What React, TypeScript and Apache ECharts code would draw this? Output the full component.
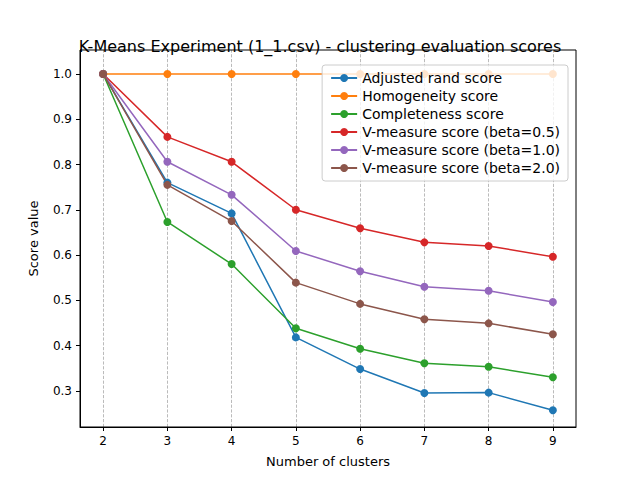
import React, { useEffect, useRef } from "react";
import * as echarts from "echarts";

const clusters = [2, 3, 4, 5, 6, 7, 8, 9];
const adjusted = [1.0, 0.76, 0.692, 0.418, 0.348, 0.295, 0.296, 0.257];
const homogeneity = [1.0, 1.0, 1.0, 1.0, 1.0, 1.0, 1.0, 1.0];
const completeness = [1.0, 0.673, 0.58, 0.438, 0.393, 0.361, 0.353, 0.33];
const v05 = [1.0, 0.861, 0.806, 0.7, 0.659, 0.628, 0.62, 0.596];
const v10 = [1.0, 0.806, 0.733, 0.609, 0.564, 0.53, 0.521, 0.496];
const v20 = [1.0, 0.755, 0.675, 0.539, 0.492, 0.458, 0.449, 0.425];
const yTicks = [0.3, 0.4, 0.5, 0.6, 0.7, 0.8, 0.9, 1.0];

const seriesDefs = [
  { name: "Adjusted rand score", data: adjusted, color: "#1f77b4" },
  { name: "Homogeneity score", data: homogeneity, color: "#ff7f0e" },
  { name: "Completeness score", data: completeness, color: "#2ca02c" },
  { name: "V-measure score (beta=0.5)", data: v05, color: "#d62728" },
  { name: "V-measure score (beta=1.0)", data: v10, color: "#9467bd" },
  { name: "V-measure score (beta=2.0)", data: v20, color: "#8c564b" },
];

export default function App() {
  const ref = useRef<HTMLDivElement>(null);
  useEffect(() => {
    document.body.style.margin = "0";
    const chart = echarts.init(ref.current!, null, { renderer: "svg" });
    const font = "DejaVu Sans";
    chart.setOption({
      animation: false,
      textStyle: { fontFamily: font },
      title: {
        text: "K-Means Experiment (1_1.csv) - clustering evaluation scores",
        left: "center", top: 33,
        textStyle: { fontSize: 16, fontWeight: "normal", color: "#000", fontFamily: font },
      },
      graphic: [{
        type: "rect", shape: { x: 80, y: 50, width: 496, height: 377 },
        style: { fill: "none", stroke: "#000", lineWidth: 1 }, silent: true, z: 10,
      }],
      grid: { left: 80, right: 64, top: 50, bottom: 53 },
      legend: {
        orient: "vertical", right: 72, top: 65, itemGap: 4, itemWidth: 26, itemHeight: 10,
        backgroundColor: "rgba(255,255,255,0.8)", borderColor: "#ccc", borderWidth: 1,
        borderRadius: 3, padding: [6, 8],
        textStyle: { fontSize: 14, color: "#000", fontFamily: font },
      },
      xAxis: {
        type: "value", min: 1.64, max: 9.36,
        name: "Number of clusters", nameLocation: "middle", nameGap: 28,
        nameTextStyle: { fontSize: 13, color: "#000" },
        axisLine: { lineStyle: { color: "#000" } },
        axisTick: { show: true, customValues: clusters, lineStyle: { color: "#000" }, length: 4 },
        axisLabel: { customValues: clusters, color: "#000", fontSize: 12 },
        splitLine: { show: false },
      },
      yAxis: {
        type: "value", min: 0.22, max: 1.053,
        name: "Score value", nameLocation: "middle", nameGap: 40,
        nameTextStyle: { fontSize: 13, color: "#000" },
        axisLine: { show: true, lineStyle: { color: "#000" } },
        axisTick: { show: true, customValues: yTicks, lineStyle: { color: "#000" }, length: 4 },
        axisLabel: { customValues: yTicks, color: "#000", fontSize: 12, formatter: (v: number) => v.toFixed(1) },
        splitLine: { show: false },
      },
      series: seriesDefs.map((s, i) => ({
        type: "line", name: s.name,
        data: s.data.map((v, j) => [clusters[j], v]),
        color: s.color, symbol: "circle", symbolSize: 8,
        lineStyle: { width: 1.5, color: s.color },
        itemStyle: { color: s.color },
        z: 3,
        markLine: i === 0 ? {
          silent: true, symbol: "none", label: { show: false },
          lineStyle: { type: "dashed", color: "#aaa", width: 0.8 },
          data: clusters.map((c) => ({ xAxis: c })),
          z: 1,
        } : undefined,
      })),
    });
    return () => chart.dispose();
  }, []);
  return <div ref={ref} style={{ width: 640, height: 480 }} />;
}
